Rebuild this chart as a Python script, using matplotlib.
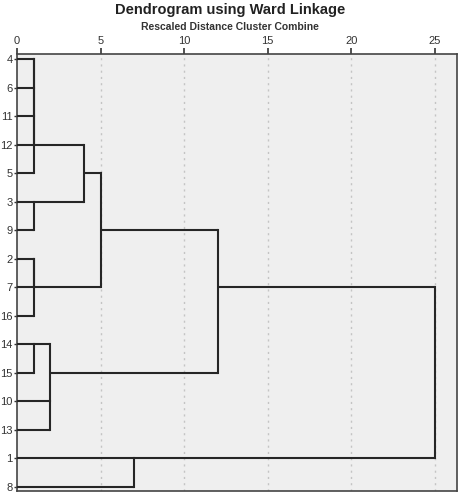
import numpy as np
import matplotlib.pyplot as plt

plt.rcParams['font.family'] = ['Liberation Sans', 'DejaVu Sans']

# leaf order as shown (case numbers)
cases = [4, 6, 11, 12, 5, 3, 9, 2, 7, 16, 14, 15, 10, 13, 1, 8]
# linkage: node ids 0..15 are leaves (index into cases), 16+ are merges in order
merge_a = [0, 16, 17, 18, 5, 7, 21, 10, 12, 23, 19, 26, 14, 27, 29]
merge_b = [1, 2, 3, 4, 6, 8, 9, 11, 13, 24, 20, 22, 15, 25, 28]
merge_h = [1.0, 1.0, 1.0, 1.0, 1.0, 1.0, 1.0, 1.0, 2.0, 2.0, 4.0, 5.0, 7.0, 12.0, 25.0]
xticks = [0, 5, 10, 15, 20, 25]

fig = plt.figure(figsize=(4.6, 4.95), dpi=100)
ax = fig.add_axes([17/460, 1 - 491/495, (456.7 - 17)/460, (491 - 54)/495])
ax.set_facecolor('#efefef')

n = len(cases)
row = {i: i for i in range(n)}
height = {i: 0.0 for i in range(n)}
lc = '#262626'
for k in range(len(merge_h)):
    a, b, h = merge_a[k], merge_b[k], merge_h[k]
    for c in (a, b):
        ax.plot([height[c], h], [row[c], row[c]], color=lc, lw=1.5, solid_capstyle='butt', zorder=3)
    ax.plot([h, h], [row[a], row[b]], color=lc, lw=1.5, solid_capstyle='projecting', zorder=3)
    nid = n + k
    row[nid] = (row[a] + row[b]) // 2
    height[nid] = h

for x in xticks[1:]:
    ax.axvline(x, color='#c4c4c4', lw=1.0, ls=(0, (1.5, 3)), zorder=1)

ax.set_xlim(0, 26.3)
ax.set_ylim(n - 1 + 0.14, -0.18)
ax.xaxis.tick_top()
ax.set_xticks(xticks)
ax.set_xticklabels([str(t) for t in xticks], fontsize=8, color='#333333')
ax.tick_params(axis='x', direction='out', length=4, width=1.2, pad=2, colors='#333333')
ax.set_yticks(range(n))
ax.set_yticklabels([str(c) for c in cases], fontsize=8, color='#333333')
ax.tick_params(axis='y', direction='out', length=2, width=1.0, pad=1, colors='#333333')
for s in ax.spines.values():
    s.set_color('#444444')
    s.set_linewidth(1.2)

fig.text(0.5, 1 - 10/495, 'Dendrogram using Ward Linkage', ha='center', va='center',
         fontsize=10.5, fontweight='bold', color='#222222')
fig.text(0.5, 1 - 27/495, 'Rescaled Distance Cluster Combine', ha='center', va='center',
         fontsize=7.5, fontweight='bold', color='#333333')

fig.savefig('out.png', dpi=100)
